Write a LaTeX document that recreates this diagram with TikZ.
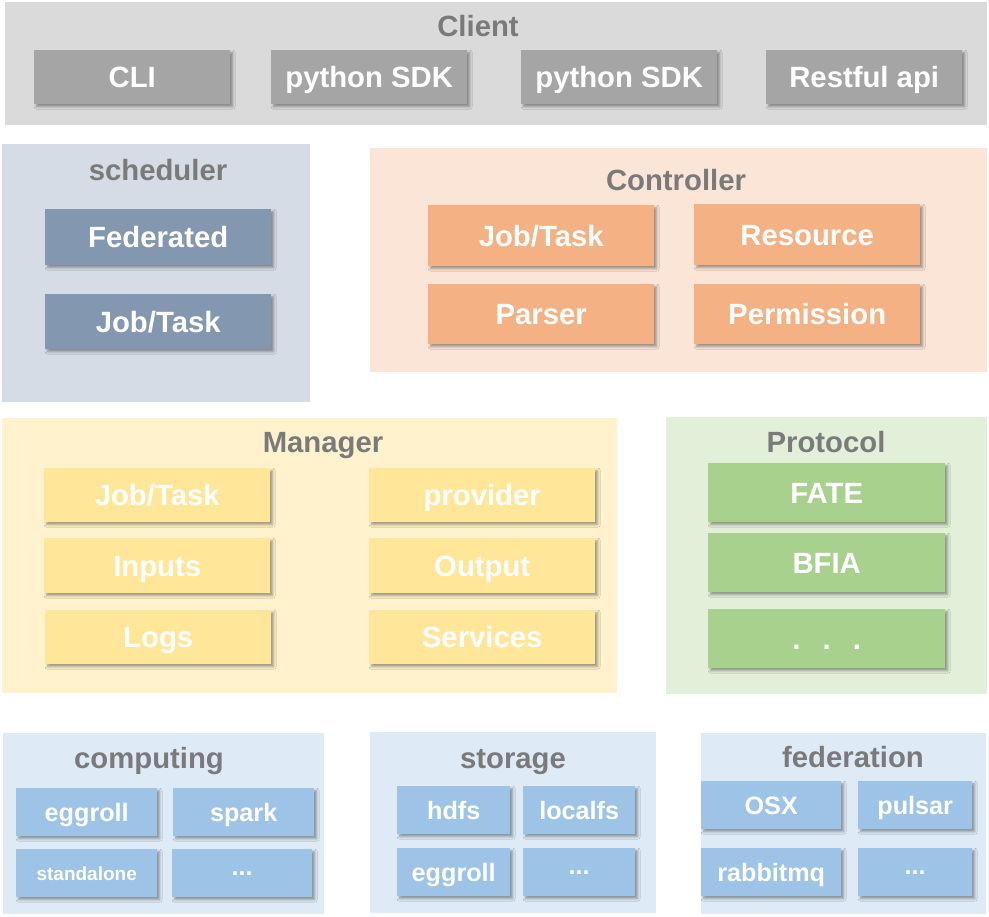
\documentclass[tikz,border=0pt]{standalone}
\usepackage{fontspec}
\setmainfont{Liberation Sans}
\usetikzlibrary{shadows.blur}
\definecolor{ttl}{HTML}{7A7A7A}
\definecolor{clientbg}{HTML}{DADADA}
\definecolor{clientbx}{HTML}{A5A5A5}
\definecolor{schedbg}{HTML}{D6DCE5}
\definecolor{schedbx}{HTML}{8497B0}
\definecolor{ctrlbg}{HTML}{FBE5D6}
\definecolor{ctrlbx}{HTML}{F4B183}
\definecolor{mgrbg}{HTML}{FFF2CC}
\definecolor{mgrbx}{HTML}{FFE699}
\definecolor{protbg}{HTML}{E2F0D9}
\definecolor{protbx}{HTML}{A9D18E}
\definecolor{lowbg}{HTML}{DEEBF7}
\definecolor{lowbx}{HTML}{9DC3E6}
\tikzset{
  panel/.style={anchor=north west, inner sep=0pt, draw=none},
  ttlnode/.style={text=ttl, font=\fontsize{29.3}{31}\selectfont\bfseries, inner sep=0pt,
    text height=21pt, text depth=0pt},
  bx/.style={anchor=north west, inner sep=0pt, text=white,
    font=\fontsize{29.3}{31}\selectfont\bfseries, text height=21pt, text depth=0pt,
    blur shadow={shadow xshift=2.5pt, shadow yshift=-2.5pt, shadow blur steps=6, shadow blur radius=2.5pt, shadow opacity=38}},
  sbx/.style={bx, font=\fontsize{25.2}{27}\selectfont\bfseries, text height=18pt},
  tinybx/.style={sbx, font=\fontsize{19}{21}\selectfont\bfseries, text height=13.6pt},
  dotbx/.style={text height=0pt, text depth=0pt},
}
\begin{document}
\begin{tikzpicture}[x=1pt,y=-1pt]
\useasboundingbox (0,0) rectangle (989,917);
% Client
\node[panel, fill=clientbg, minimum width=982pt, minimum height=123pt] (clientp) at (5,2) {};
\node[ttlnode] (clientt) at (478,26) {Client};
\node[bx, fill=clientbx, minimum width=196pt, minimum height=54pt] (cli) at (34,50) {CLI};
\node[bx, fill=clientbx, minimum width=196pt, minimum height=54pt] (sdk1) at (271,50) {python SDK};
\node[bx, fill=clientbx, minimum width=196pt, minimum height=54pt] (sdk2) at (521,50) {python SDK};
\node[bx, fill=clientbx, minimum width=196pt, minimum height=54pt] (rest) at (766,50) {Restful api};
% Scheduler
\node[panel, fill=schedbg, minimum width=308pt, minimum height=258pt] (schedp) at (2,144) {};
\node[ttlnode] (schedt) at (158,170) {scheduler};
\node[bx, fill=schedbx, minimum width=226pt, minimum height=56pt] (fed) at (45,209) {Federated};
\node[bx, fill=schedbx, minimum width=226pt, minimum height=55pt] (sjob) at (45,294) {Job/Task};
% Controller
\node[panel, fill=ctrlbg, minimum width=617pt, minimum height=224pt] (ctrlp) at (370,148) {};
\node[ttlnode] (ctrlt) at (676,180) {Controller};
\node[bx, fill=ctrlbx, minimum width=226pt, minimum height=61pt] (cjob) at (428,205) {Job/Task};
\node[bx, fill=ctrlbx, minimum width=226pt, minimum height=61pt] (cres) at (694,204) {Resource};
\node[bx, fill=ctrlbx, minimum width=226pt, minimum height=60pt] (cpar) at (428,284) {Parser};
\node[bx, fill=ctrlbx, minimum width=226pt, minimum height=60pt] (cperm) at (694,284) {Permission};
% Manager
\node[panel, fill=mgrbg, minimum width=615pt, minimum height=275pt] (mgrp) at (2,418) {};
\node[ttlnode] (mgrt) at (323,442) {Manager};
\node[bx, fill=mgrbx, minimum width=226pt, minimum height=54pt] (mjob) at (44,468) {Job/Task};
\node[bx, fill=mgrbx, minimum width=226pt, minimum height=54pt] (mprov) at (369,468) {provider};
\node[bx, fill=mgrbx, minimum width=226pt, minimum height=55pt] (minp) at (44,538) {Inputs};
\node[bx, fill=mgrbx, minimum width=226pt, minimum height=55pt] (mout) at (369,538) {Output};
\node[bx, fill=mgrbx, minimum width=226pt, minimum height=54pt] (mlogs) at (45,610) {Logs};
\node[bx, fill=mgrbx, minimum width=226pt, minimum height=54pt] (msvc) at (369,610) {Services};
% Protocol
\node[panel, fill=protbg, minimum width=321pt, minimum height=277pt] (protp) at (666,417) {};
\node[ttlnode] (prott) at (826,442) {Protocol};
\node[bx, fill=protbx, minimum width=237pt, minimum height=59pt] (fate) at (708,463) {FATE};
\node[bx, fill=protbx, minimum width=237pt, minimum height=59pt] (bfia) at (708,533) {BFIA};
\node[bx, dotbx, fill=protbx, minimum width=237pt, minimum height=59pt] (pdots) at (708,609) {\raisebox{-11pt}{.\hspace{22pt}.\hspace{22pt}.}};
% computing
\node[panel, fill=lowbg, minimum width=321pt, minimum height=181pt] (compp) at (3,733) {};
\node[ttlnode] (compt) at (149,758) {computing};
\node[sbx, fill=lowbx, minimum width=141pt, minimum height=48pt] (cegg) at (16,788) {eggroll};
\node[sbx, fill=lowbx, minimum width=141pt, minimum height=48pt] (cspark) at (173,788) {spark};
\node[tinybx, fill=lowbx, minimum width=141pt, minimum height=48pt] (cstand) at (16,849) {standalone};
\node[sbx, dotbx, fill=lowbx, minimum width=140pt, minimum height=48pt] (cdots) at (172,849) {\raisebox{-2pt}{...}};
% storage
\node[panel, fill=lowbg, minimum width=286pt, minimum height=181pt] (storp) at (370,732) {};
\node[ttlnode] (stort) at (513,758) {storage};
\node[sbx, fill=lowbx, minimum width=113pt, minimum height=48pt] (shdfs) at (397,786) {hdfs};
\node[sbx, fill=lowbx, minimum width=112pt, minimum height=48pt] (slocal) at (523,786) {localfs};
\node[sbx, fill=lowbx, minimum width=113pt, minimum height=48pt] (segg) at (397,848) {eggroll};
\node[sbx, dotbx, fill=lowbx, minimum width=112pt, minimum height=48pt] (sdots) at (523,848) {\raisebox{-2pt}{...}};
% federation
\node[panel, fill=lowbg, minimum width=285pt, minimum height=181pt] (fedp) at (701,733) {};
\node[ttlnode] (fedt) at (853,757) {federation};
\node[sbx, fill=lowbx, minimum width=140pt, minimum height=48pt] (fosx) at (701,781) {OSX};
\node[sbx, fill=lowbx, minimum width=114pt, minimum height=48pt] (fpulsar) at (858,781) {pulsar};
\node[sbx, fill=lowbx, minimum width=140pt, minimum height=48pt] (frabbit) at (701,848) {rabbitmq};
\node[sbx, dotbx, fill=lowbx, minimum width=114pt, minimum height=48pt] (fdots) at (858,848) {\raisebox{-2pt}{...}};
\end{tikzpicture}
\end{document}
